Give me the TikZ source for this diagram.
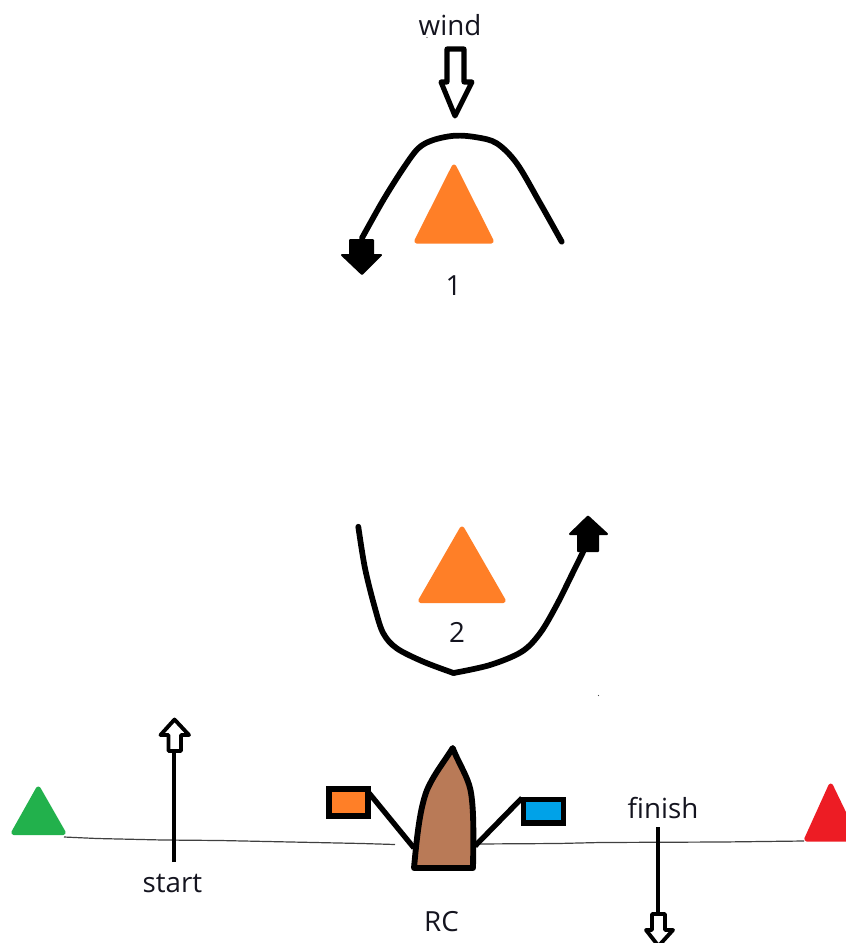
\documentclass[tikz,border=0pt]{standalone}
\usepackage{fontspec}
\setmainfont{Open Sans}
\definecolor{mOrange}{HTML}{FF7F27}
\definecolor{mGreen}{HTML}{22B14C}
\definecolor{mRed}{HTML}{ED1C24}
\definecolor{mBlue}{HTML}{00A2E8}
\definecolor{mBrown}{HTML}{B97A57}
\definecolor{mText}{HTML}{14141F}
\tikzset{
  buoy/.style={line width=3pt,line join=round,rounded corners=0.5pt},
  course/.style={line width=4.3pt,black,line cap=round,line join=round},
  thick outline/.style={line width=3.8pt,black,line join=round,fill=white},
  thin outline/.style={line width=2.9pt,black,line join=round,fill=white},
  stem/.style={line width=3pt,black},
  headfill/.style={black,fill=black,line width=1.5pt,line join=round},
  baseline rule/.style={line width=0.9pt,black!75},
  flagbox/.style={line width=4.4pt,black,line join=miter},
  label text/.style={font=\fontsize{20.8pt}{23pt}\selectfont,text=mText,inner sep=0pt,anchor=center}
}
\begin{document}
\begin{tikzpicture}[x=0.75pt,y=-0.75pt]
\useasboundingbox (0,0) rectangle (846,943);
\clip (0,0) rectangle (846,943);
\fill[white] (0,0) rectangle (846,943);

% line
\draw[baseline rule] (64,837) -- (97,838.5) -- (163,840) -- (220,840.5) -- (362,843.5) -- (395,844.5);
\draw[baseline rule] (476,844) -- (558,843.5) -- (600,842.5) -- (722,842) -- (804,841);

% triangles
\filldraw[buoy,mOrange] (454,166) -- (416,241.5) -- (492,241.5) -- cycle;
\filldraw[buoy,mOrange] (462,528) -- (420,601) -- (504,601) -- cycle;
\filldraw[buoy,mGreen] (38.3,788) -- (13,833) -- (64,833) -- cycle;
\filldraw[buoy,mRed] (830.7,785) -- (806,839.5) -- (857,839.5) -- cycle;

% wind arrow
\draw[thick outline] (447,49) -- (464,49) -- (464,82) -- (472,82) -- (455,116) -- (441,82) -- (447,82) -- cycle;

% mark 1 course
\draw[course] plot[smooth,tension=0.55] coordinates {(561.7,241.7) (540,203) (516.7,163.3) (496.7,143.3) (476.7,137.3) (455,135.7) (433.3,140) (418.3,148.3) (403.3,168.3) (383.3,200) (362,238)};
\filldraw[headfill] (350,240) -- (373,240) -- (373,255) -- (381,255) -- (362,274) -- (342,255) -- (350,255) -- cycle;

% mark 2 course
\draw[course] plot[smooth,tension=0.55] coordinates {(358.3,526.7) (365,568.3) (375,608.3) (383.3,633.3) (396.7,648.3) (423.3,661.7) (453.5,673)};
\draw[course] plot[smooth,tension=0.55] coordinates {(453.5,673) (490,665) (521.7,651.7) (540,633.3) (556.7,605) (573.3,571.7) (585,548)};
\filldraw[headfill] (588,516.5) -- (607,534) -- (598,534) -- (598,551) -- (578,551) -- (578,534) -- (570,534) -- cycle;

% boat
\draw[line width=4.4pt,black,fill=mBrown,line join=round]
  (452.7,748) .. controls (444,762) and (434,774) .. (427,790)
  .. controls (420,808) and (417,835) .. (414,868)
  -- (473,868)
  .. controls (473.5,835) and (474,808) .. (470.5,790)
  .. controls (467.5,776) and (459,764) .. (452.7,748) -- cycle;

% flags
\draw[line width=4pt,black] (369,793) -- (414,848);
\draw[line width=4pt,black] (522,798) -- (475,846);
\filldraw[flagbox,fill=mOrange] (329,789) rectangle (368,816);
\filldraw[flagbox,fill=mBlue] (523.5,799.5) rectangle (563.5,823);

% start arrow
\draw[stem] (174,862) -- (174,752);
\draw[thin outline] (168.5,751) -- (181,751) -- (181,735) -- (189,735) -- (174.5,719.5) -- (160.5,735) -- (168.5,735) -- cycle;

% finish arrow
\draw[stem] (658,827) -- (658,914);
\draw[thin outline] (652,914) -- (665,914) -- (665,930) -- (673,930) -- (658.5,946) -- (646,930) -- (652,930) -- cycle;

% specks
\fill[black!70] (598.5,695.5) circle (0.6);
\fill[black!70] (427,37.5) circle (0.7);

% labels
\node[label text] (windlabel) at (450,25.5) {wind};
\node[label text] (onelabel) at (453.5,285.5) {1};
\node[label text] (twolabel) at (457,632) {2};
\node[label text] (startlabel) at (172.5,883) {start};
\node[label text] (finishlabel) at (663,808.5) {finish};
\node[label text] (rclabel) at (441.5,921.5) {RC};
\end{tikzpicture}
\end{document}
